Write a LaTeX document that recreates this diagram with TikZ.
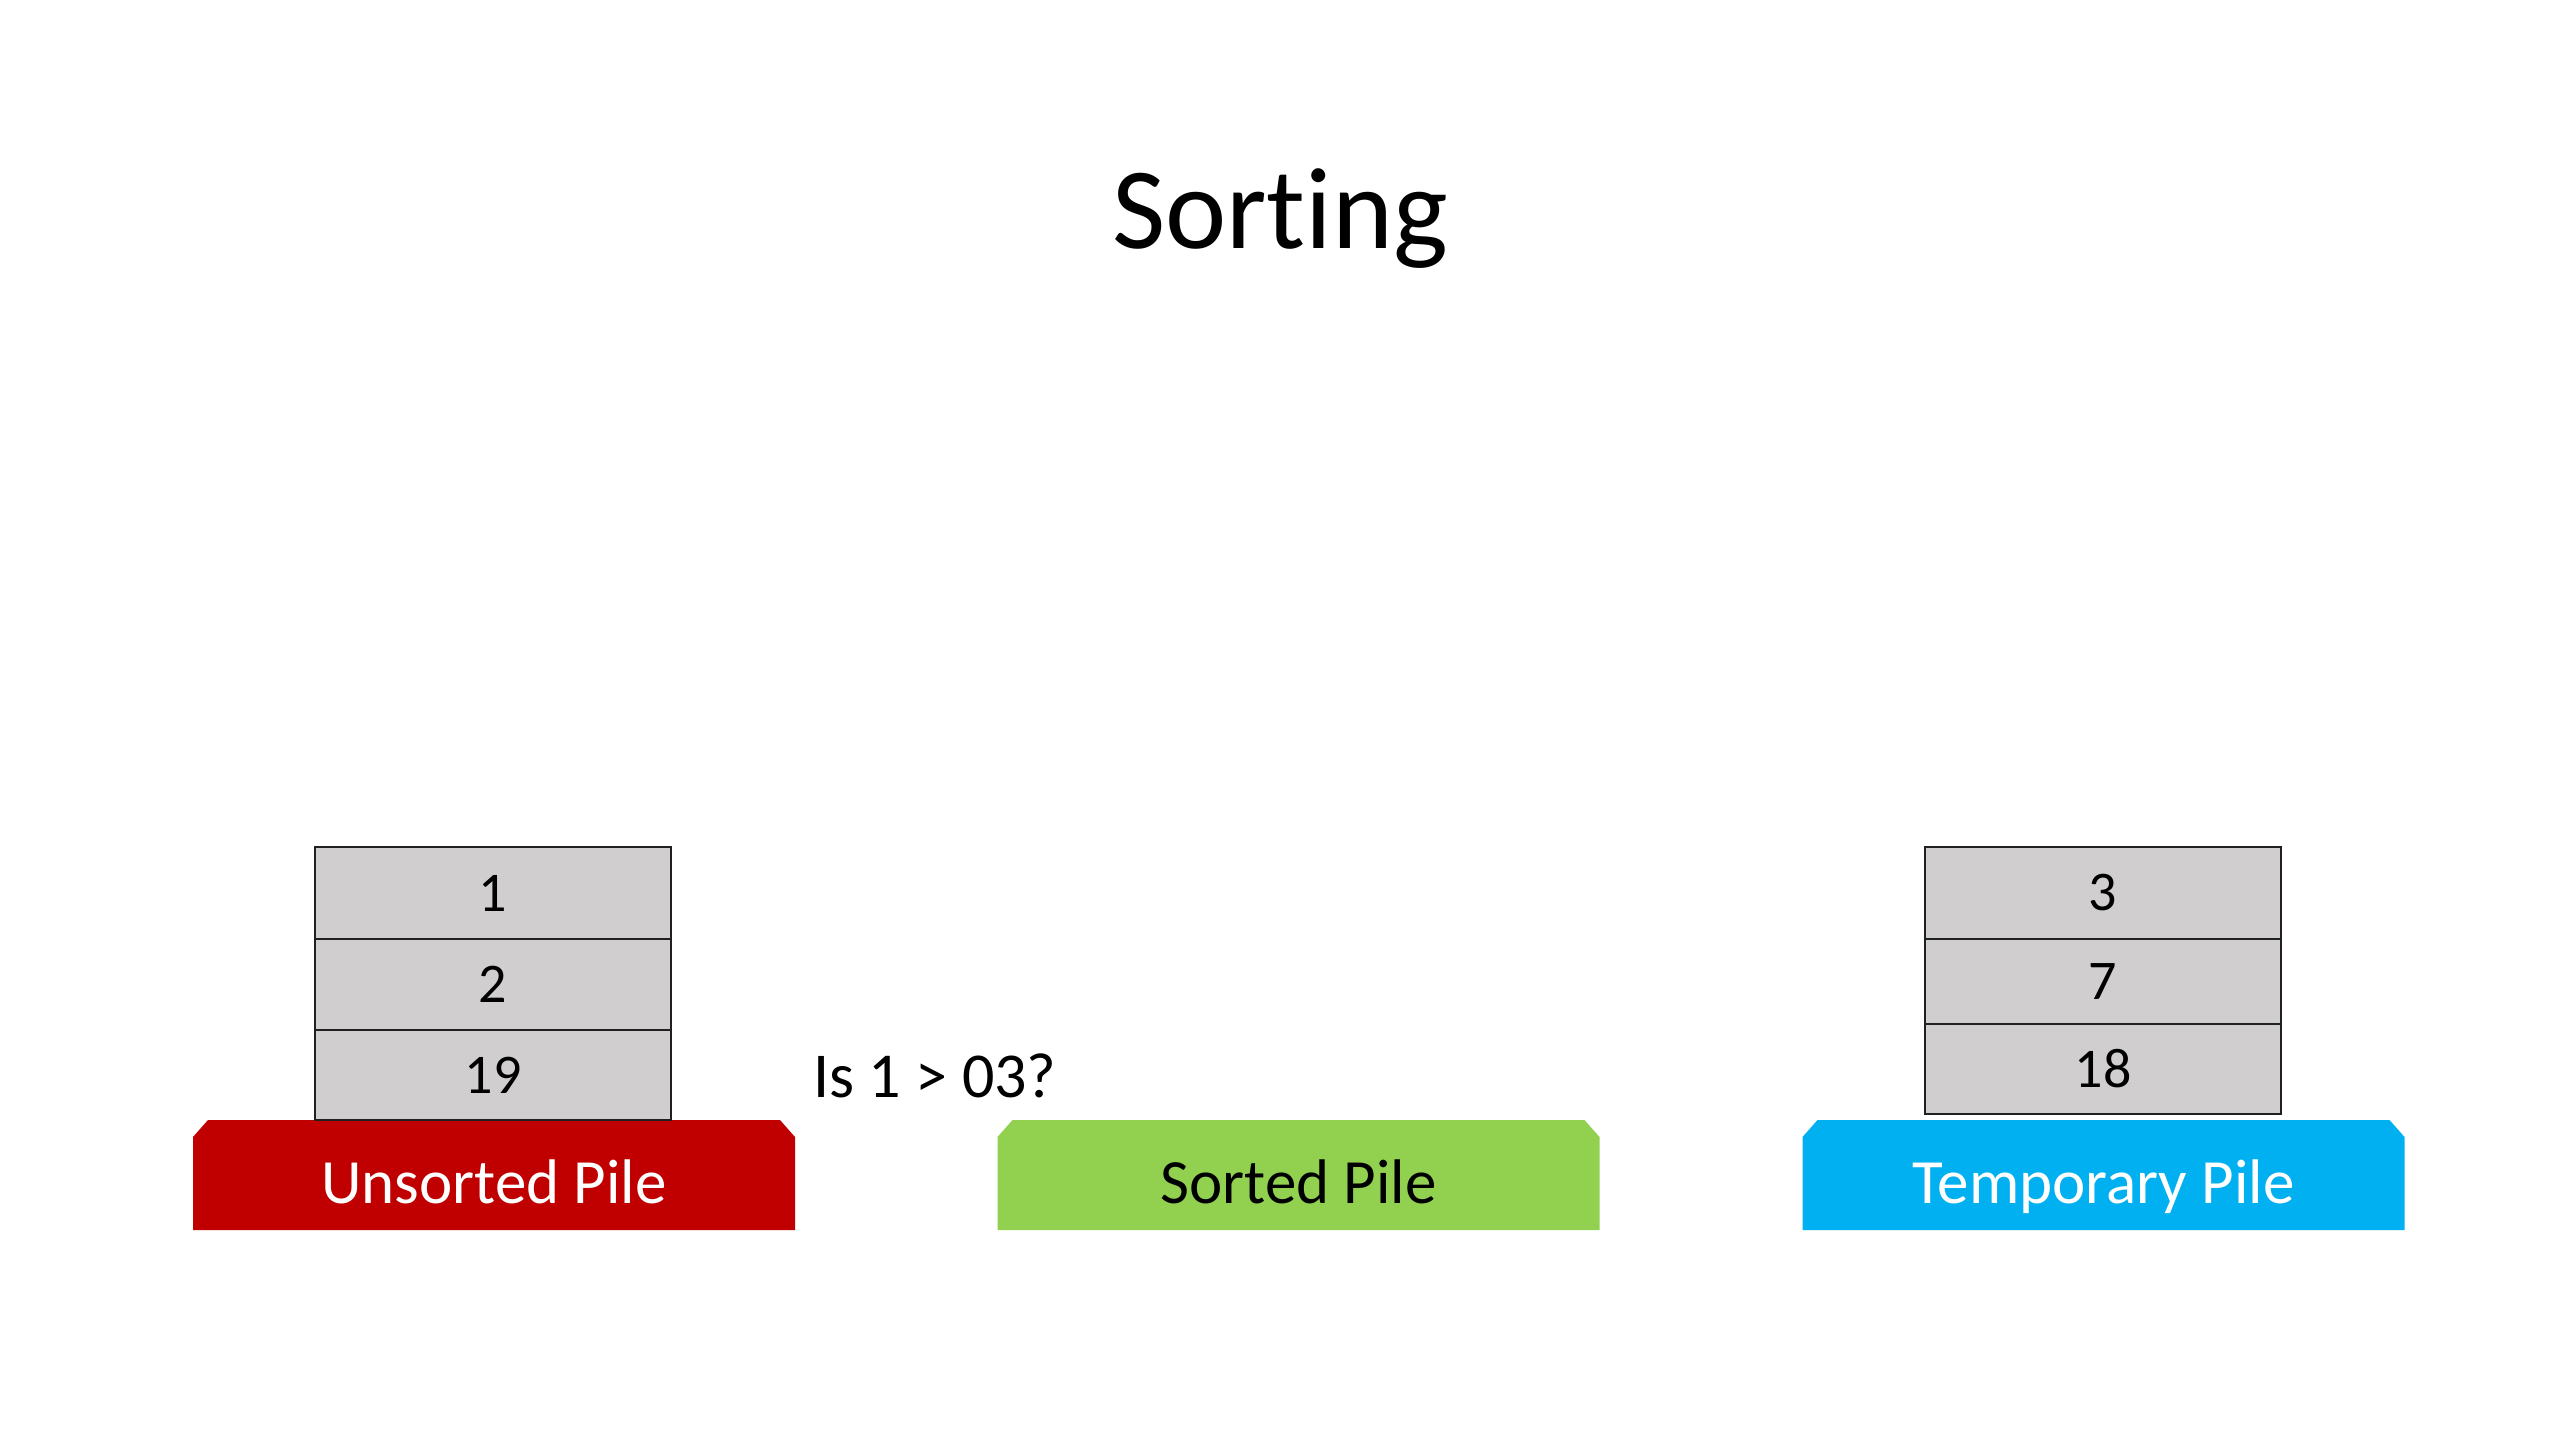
\documentclass[tikz,border=0pt]{standalone}
\usepackage{fontspec}
\setmainfont[Ligatures={NoCommon}]{Carlito}
\definecolor{pilered}{HTML}{C00000}
\definecolor{pilegreen}{HTML}{92D050}
\definecolor{pileblue}{HTML}{00B0F0}
\definecolor{cardgray}{HTML}{D0CECE}
\definecolor{cardline}{HTML}{202020}
\tikzset{
  platform/.style={rectangle, minimum width=602pt, minimum height=110pt, inner sep=0pt, draw=none,
    path picture={\fill[#1] (path picture bounding box.south west)
      -- ([yshift=-17pt]path picture bounding box.north west)
      -- ([xshift=15pt]path picture bounding box.north west)
      -- ([xshift=-15pt]path picture bounding box.north east)
      -- ([yshift=-17pt]path picture bounding box.north east)
      -- (path picture bounding box.south east) -- cycle;}},
  card/.style={draw=cardline, line width=2.6pt, fill=cardgray, minimum width=356pt,
    inner sep=0pt, font=\fontsize{56}{64}\selectfont},
  pilelabel/.style={anchor=base, font=\fontsize{63}{72}\selectfont},
}
\begin{document}
\begin{tikzpicture}[x=1pt,y=-1pt]
\useasboundingbox[fill=white] (0,0) rectangle (2560,1440);
% title
\node[anchor=base, font=\fontsize{116}{130}\selectfont] (title) at (1280,248) {Sorting};
% platforms
\node[platform=pilered] (unsorted) at (494,1175) {};
\node[pilelabel, white] (unsortedlbl) at (494,1203) {Unsorted Pile};
\node[platform=pilegreen] (sorted) at (1298.5,1175) {};
\node[pilelabel, black] (sortedlbl) at (1298.5,1203) {Sorted Pile};
\node[platform=pileblue] (temp) at (2103.5,1175) {};
\node[pilelabel, white] (templbl) at (2103.5,1203) {Temporary Pile};
% unsorted stack
\node[card, minimum height=92pt] (u1) at (493,893) {1};
\node[card, minimum height=91pt] (u2) at (493,984.5) {2};
\node[card, minimum height=90pt] (u3) at (493,1075) {19};
% temporary stack
\node[card, minimum height=92pt] (t1) at (2103,893) {3};
\node[card, minimum height=85pt] (t2) at (2103,981.5) {7};
\node[card, minimum height=90pt] (t3) at (2103,1069) {18};
% question
\node[anchor=base west, inner sep=0pt, font=\fontsize{64}{72}\selectfont] (question) at (813,1097) {Is 1 > 03?};
\end{tikzpicture}
\end{document}
